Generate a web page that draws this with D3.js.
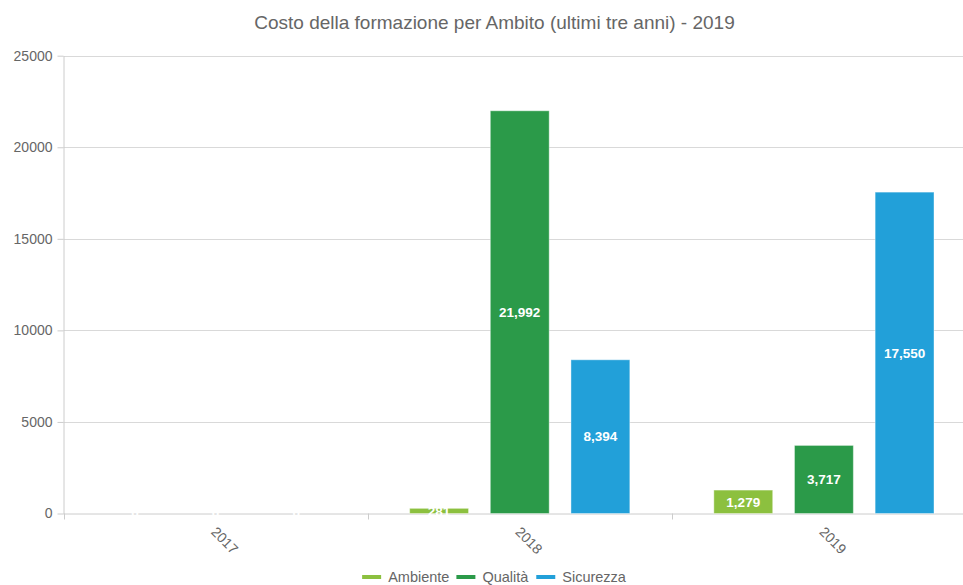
<!doctype html>
<html lang="en">
<head>
    <meta charset="utf-8">
    <title></title>
    <script src="https://d3js.org/d3.v7.min.js"></script>
    <style type="text/css">
    body { margin:0; background:#fff; }
    text { font-family:"Liberation Sans", Arial, sans-serif; }
    .grid line { stroke:#d9d9d9; }
    .axis text { fill:#666; font-size:14px; }
    .axis path, .axis line { stroke:#ccc; }
    .barlabel { fill:#fff; font-size:13.5px; font-weight:bold; }
    </style>
</head>

<body>
</body>

<script type="text/javascript">

  var years   = ["2017", "2018", "2019"]
  var series  = ["Ambiente", "Qualità", "Sicurezza"]
  var colors  = ["#8cc03f", "#2b9a49", "#22a0d9"]
  var ambiente  = [0, 281, 1279]
  var qualita   = [0, 21992, 3717]
  var sicurezza = [0, 8394, 17550]
  var yTicks  = [0, 5000, 10000, 15000, 20000, 25000]

  var values = [ambiente, qualita, sicurezza]

  var W = 963, H = 585
  var margin = {left:63.5, top:55.7, bottom:513.5, right:976}

  var svg = d3.select("body")
  .append("svg")
  .attr("width", W)
  .attr("height", H)

  var x0 = d3.scaleBand()
    .domain(years)
    .range([margin.left, margin.right])

  var x1 = d3.scaleBand()
    .domain(series)
    .range([42, x0.bandwidth()-42])
    .paddingInner(0.27)

  var y = d3.scaleLinear()
    .domain([0, 25000])
    .range([margin.bottom, margin.top])

  // title
  svg.append("text")
  .attr("x", W/2 + 13)
  .attr("y", 29)
  .attr("text-anchor", "middle")
  .style("font-size", "19px")
  .style("fill", "#666")
  .text("Costo della formazione per Ambito (ultimi tre anni) - 2019")

  // gridlines
  svg.append("g")
  .attr("class", "grid")
  .selectAll("line")
  .data(yTicks.filter(d=>d>0))
  .enter()
  .append("line")
  .attr("x1", margin.left)
  .attr("x2", W)
  .attr("y1", d=>Math.round(y(d))+0.5)
  .attr("y2", d=>Math.round(y(d))+0.5)

  // y axis
  var yAxis = d3.axisLeft(y)
    .tickValues(yTicks)
    .tickFormat(d3.format("d"))
    .tickSize(6)
    .tickSizeOuter(0)
    .tickPadding(5)

  svg.append("g")
  .attr("class", "axis y")
  .attr("transform", "translate("+margin.left+",0)")
  .call(yAxis)

  // x axis
  var xAxis = d3.axisBottom(x0)
    .tickSize(0)
    .tickSizeOuter(0)

  var gx = svg.append("g")
  .attr("class", "axis x")
  .attr("transform", "translate(0,"+margin.bottom+")")
  .call(xAxis)

  gx.select(".domain").attr("d", "M"+margin.left+",0.5H"+W)

  gx.selectAll(".tick text")
  .attr("text-anchor", "start")
  .attr("dy", null)
  .attr("y", 0)
  .attr("transform", "translate(2,12) rotate(45)")
  .attr("dominant-baseline", "hanging")

  // category tick marks at band edges
  gx.selectAll(".sep")
  .data(years)
  .enter()
  .append("line")
  .attr("x1", d=>Math.round(x0(d))+0.5)
  .attr("x2", d=>Math.round(x0(d))+0.5)
  .attr("y1", 0)
  .attr("y2", 6)
  .style("stroke", "#ccc")

  // bars
  var groups = svg.selectAll(".year")
  .data(years)
  .enter()
  .append("g")
  .attr("transform", d=>"translate("+x0(d)+",0)")

  groups.each(function(yr, i){
    var g = d3.select(this)
    var rows = series.map((s,j)=>({s:s, v:values[j][i], c:colors[j]}))

    g.selectAll("rect")
    .data(rows)
    .enter()
    .append("rect")
    .attr("x", d=>x1(d.s))
    .attr("width", x1.bandwidth())
    .attr("y", d=>y(d.v))
    .attr("height", d=>margin.bottom-y(d.v))
    .style("fill", d=>d.c)
    .style("stroke", "rgba(255,255,255,0.4)")
    .style("stroke-width", 1)

    g.selectAll("text")
    .data(rows)
    .enter()
    .append("text")
    .attr("class", "barlabel")
    .attr("x", d=>x1(d.s)+x1.bandwidth()/2)
    .attr("y", d=>(y(d.v)+margin.bottom)/2)
    .attr("dy", "0.35em")
    .attr("text-anchor", "middle")
    .text(d=>d3.format(",")(d.v))
  })

  // legend
  var legend = svg.append("g")
  .attr("transform", "translate(0,577)")

  var items = legend.selectAll("g")
  .data(series)
  .enter()
  .append("g")

  items.append("line")
  .attr("x1", 0)
  .attr("x2", 19)
  .style("stroke", (d,i)=>colors[i])
  .style("stroke-width", 4)

  items.append("text")
  .attr("x", 26)
  .attr("dy", "0.35em")
  .style("font-size", "14.5px")
  .style("fill", "#666")
  .text(d=>d)

  var widths = []
  items.each(function(){ widths.push(this.getBBox().width) })
  var total = d3.sum(widths) + 7*(widths.length-1)
  var xpos = (W - total)/2 + 13
  items.attr("transform", function(d,i){
    var t = "translate("+xpos+",0)"
    xpos += widths[i] + 7
    return t
  })

</script>
</html>
